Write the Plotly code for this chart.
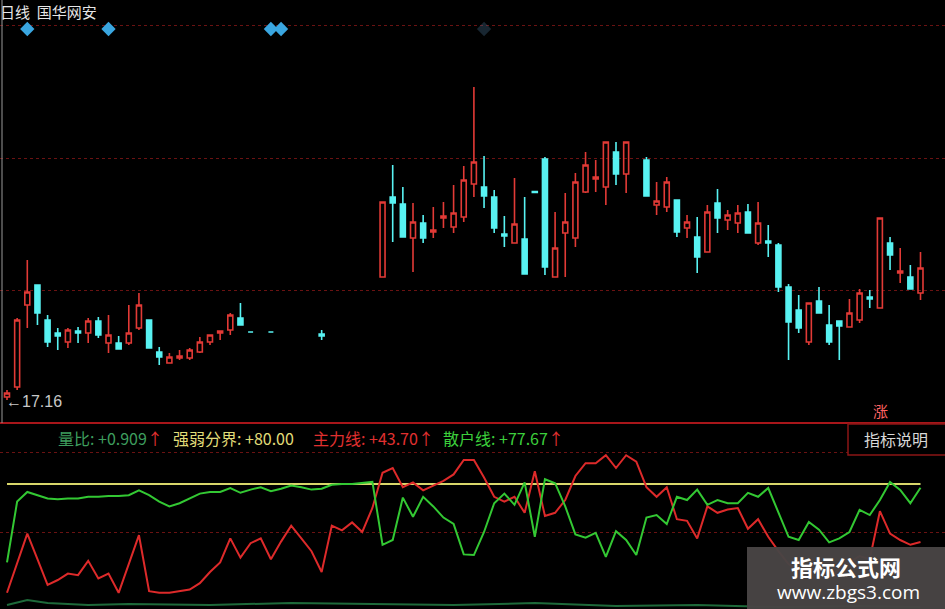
import plotly.graph_objects as go

# ---------------- data ----------------
candle_idx = list(range(0, 24)) + [24, 26, 31] + list(range(37, 62)) + list(range(63, 91))

opens = [17.25, 17.55, 20.01, 20.61, 19.56, 19.17, 18.90, 19.23, 19.17, 19.53,
         18.87, 18.87, 18.87, 19.32, 19.56, 18.60, 18.27, 18.42, 18.42, 18.60,
         18.90, 19.17, 19.26, 19.62,
         19.20, 19.20, 19.14,
         20.85, 23.25, 23.04, 22.02, 22.47, 22.20, 22.62, 22.35, 22.65, 23.64,
         23.55, 23.25, 22.14, 21.87, 21.99, 23.41, 24.39, 20.85, 22.17, 22.02,
         23.40, 23.79, 23.55, 24.60, 23.94,
         24.36, 23.01, 22.95, 23.16, 22.32, 22.05, 21.60, 23.07, 22.56, 22.47,
         22.80, 21.87, 21.93, 21.81, 20.55, 19.86, 18.90, 20.13, 19.41, 19.53,
         19.35, 19.56, 20.25, 19.92, 21.87, 20.97, 20.85, 20.37]
highs = [17.46, 19.62, 21.36, 20.61, 19.71, 19.32, 19.32, 19.35, 19.62, 19.65,
         19.71, 19.08, 20.01, 20.37, 19.56, 18.75, 18.57, 18.66, 18.72, 19.05,
         19.11, 19.23, 19.77, 20.07,
         19.21, 19.21, 19.26,
         23.10, 24.21, 23.55, 23.07, 22.71, 22.95, 23.10, 23.61, 24.18, 26.55,
         24.48, 23.46, 22.68, 23.82, 23.25, 23.41, 24.45, 22.80, 23.37, 23.97,
         24.60, 24.36, 24.90, 24.90, 24.90,
         24.45, 23.70, 23.85, 23.16, 22.71, 22.65, 23.01, 23.49, 22.86, 23.01,
         23.04, 23.10, 22.41, 21.87, 20.64, 20.31, 20.07, 20.55, 20.01, 19.53,
         20.19, 20.49, 20.46, 22.62, 22.05, 21.72, 21.21, 21.60]
lows = [17.16, 17.46, 19.32, 19.41, 18.75, 18.66, 18.72, 18.87, 18.87, 19.02,
        18.57, 18.69, 18.81, 19.26, 18.72, 18.21, 18.27, 18.36, 18.36, 18.57,
        18.81, 18.96, 19.11, 19.41,
        19.19, 19.19, 18.96,
        20.85, 21.90, 22.05, 21.00, 21.87, 22.02, 22.32, 22.17, 22.50, 23.25,
        22.92, 22.17, 21.75, 21.87, 20.94, 23.39, 20.91, 20.85, 20.85, 21.75,
        23.37, 23.40, 23.01, 23.61, 23.37,
        23.28, 22.71, 22.80, 22.05, 22.02, 20.97, 21.60, 22.17, 22.26, 22.17,
        22.17, 21.81, 21.45, 20.40, 18.36, 19.17, 18.81, 19.77, 18.81, 18.36,
        19.35, 19.47, 19.92, 19.92, 21.06, 20.67, 20.49, 20.16]
closes = [17.37, 19.56, 20.40, 19.77, 18.90, 19.08, 19.26, 19.17, 19.53, 19.11,
          19.11, 18.69, 19.17, 20.01, 18.72, 18.45, 18.45, 18.48, 18.66, 18.90,
          19.11, 19.23, 19.71, 19.41,
          19.20, 19.20, 19.08,
          23.10, 23.07, 22.05, 22.50, 22.02, 22.26, 22.68, 22.77, 23.76, 24.30,
          23.28, 22.32, 22.08, 22.44, 20.94, 23.39, 21.15, 21.72, 22.50, 23.70,
          24.21, 23.85, 24.90, 23.94, 24.90,
          23.28, 23.13, 23.70, 22.20, 22.50, 21.45, 22.80, 22.62, 22.71, 22.77,
          22.17, 22.47, 21.87, 20.55, 19.50, 19.32, 20.07, 19.77, 18.90, 19.38,
          19.77, 20.37, 20.19, 22.62, 21.51, 21.03, 20.49, 21.12]

signal_idx = [2, 10, 26, 27, 47]
signal_price = [28.29, 28.29, 28.29, 28.29, 28.29]

line_idx = list(range(0, 91))
main_force = [12, 31, 49, 33, 17, 20, 24, 23, 32, 21,
              24, 12, 30, 48, 13, 12, 12, 13, 14, 18,
              25, 31, 46, 34, 43, 46, 33, 44, 54, 46,
              38, 25, 54, 51, 56, 50, 65, 87, 90, 78,
              81, 76, 79, 82, 86, 95, 95, 84, 72, 69,
              72, 62, 88, 60, 62, 70, 85, 93, 93, 98,
              90, 98, 94, 78, 72, 78, 58, 57, 46, 66,
              62, 64, 65, 52, 58, 47, 38, 30, 26, 29,
              24, 21, 27, 31, 35, 33, 63, 49, 45, 42, 43.70]
retail = [31, 69, 75, 73, 71, 70.5, 71, 71, 72, 72,
          72.5, 72.5, 73, 76, 73, 69, 66, 68, 71, 74,
          75, 75, 77.5, 74.5, 76.5, 78, 75.5, 77, 79, 78,
          76.5, 77, 79.5, 80, 80, 80.5, 81.3, 42, 45, 71.5,
          59.5, 72, 66, 59, 55, 36, 35.6, 50, 68, 74,
          67, 81, 47, 83, 80.5, 66, 48.5, 46.5, 49.5, 34.5,
          50.5, 45, 35.6, 59, 60.6, 55, 72, 70, 76.5, 67,
          70, 68, 68, 74.5, 72, 77.5, 62, 47, 45, 56.3,
          51.5, 43.5, 46, 50, 63.8, 60.6, 70, 81.3, 76.3, 68, 77.67]
divide_level = [80.0] * 91

vol_idx = [0, 2, 4, 8, 12, 20, 28, 36, 44, 52, 60, 68, 76, 84, 90]
vol_ratio = [4.4, 7.5, 5.6, 4.4, 5.0, 4.4, 5.6, 5.0, 4.4, 5.6, 3.8, 4.4, 3.1, 3.8, 3.1]

price_grid = [20.46, 24.42, 28.41]
ind_grid = [50, 100]

# ---------------- style ----------------
RED = "#e23a36"
CYAN = "#58f2f2"
W, H = 945, 609
SPLIT = 1 - 423 / H
CJK = "Noto Sans CJK SC"

def px(x):
    return x / W

def py(y):
    return 1 - y / H

fig = go.Figure()

fig.add_trace(go.Candlestick(
    x=candle_idx, open=opens, high=highs, low=lows, close=closes,
    increasing=dict(line=dict(color=RED, width=1.6), fillcolor="rgba(0,0,0,0)"),
    decreasing=dict(line=dict(color=CYAN, width=1.6), fillcolor=CYAN),
    whiskerwidth=0, xaxis="x", yaxis="y", showlegend=False, hoverinfo="skip"))

fig.add_trace(go.Scatter(
    x=signal_idx, y=signal_price, mode="markers", xaxis="x", yaxis="y",
    marker=dict(symbol="diamond", size=11, color=["#3aa6e0"] * 4 + ["rgba(70,110,140,0.35)"]),
    showlegend=False, hoverinfo="skip"))

fig.add_trace(go.Scatter(x=vol_idx, y=vol_ratio, mode="lines", xaxis="x2", yaxis="y2",
                         line=dict(color="#1e6a3a", width=2), showlegend=False, hoverinfo="skip"))
fig.add_trace(go.Scatter(x=line_idx, y=divide_level, mode="lines", xaxis="x2", yaxis="y2",
                         line=dict(color="#d8d66a", width=2.2), showlegend=False, hoverinfo="skip"))
fig.add_trace(go.Scatter(x=line_idx, y=main_force, mode="lines", xaxis="x2", yaxis="y2",
                         line=dict(color="#dd2a2a", width=2), showlegend=False, hoverinfo="skip"))
fig.add_trace(go.Scatter(x=line_idx, y=retail, mode="lines", xaxis="x2", yaxis="y2",
                         line=dict(color="#33c833", width=2), showlegend=False, hoverinfo="skip"))

xr = [-7 / 10.15, (W - 7) / 10.15]

fig.update_layout(
    width=W, height=H, autosize=False,
    margin=dict(l=0, r=0, t=0, b=0, pad=0),
    paper_bgcolor="black", plot_bgcolor="black",
    font=dict(family=CJK, color="white"),
    hovermode=False,
    xaxis=dict(domain=[0, 1], range=xr, visible=False, rangeslider=dict(visible=False), anchor="y"),
    yaxis=dict(domain=[SPLIT, 1], range=[16.47, 29.16], tickvals=price_grid, showticklabels=False,
               showgrid=True, gridcolor="#6a1212", griddash="dot", gridwidth=1,
               zeroline=False, showline=False, anchor="x"),
    xaxis2=dict(domain=[0, 1], range=xr, visible=False, anchor="y2"),
    yaxis2=dict(domain=[0, SPLIT], range=[1.875, 118.125], tickvals=ind_grid, showticklabels=False,
                showgrid=True, gridcolor="#6a1212", griddash="dot", gridwidth=1,
                zeroline=False, showline=False, anchor="x2"),
)

shapes = [
    dict(type="line", xref="paper", yref="paper", x0=0, x1=1, y0=SPLIT, y1=SPLIT,
         line=dict(color="#a8161a", width=2)),
    dict(type="line", xref="paper", yref="paper", x0=px(2), x1=px(2), y0=SPLIT, y1=1,
         line=dict(color="#9a9a9a", width=1)),
    dict(type="rect", xref="paper", yref="paper", x0=px(848), x1=px(946), y0=py(455), y1=py(424),
         line=dict(color="#8c1616", width=1.5), fillcolor="black"),
    dict(type="rect", xref="paper", yref="paper", x0=px(747), x1=1, y0=0, y1=py(547),
         line=dict(width=0), fillcolor="rgba(72,68,68,0.97)"),
]
fig.update_layout(shapes=shapes)

ann = []
def add(text, x, y, size, color, xanchor="left", yanchor="middle", family=CJK):
    ann.append(dict(text=text, x=x, y=y, xref="paper", yref="paper", showarrow=False,
                    xanchor=xanchor, yanchor=yanchor, borderpad=0,
                    font=dict(size=size, color=color, family=family)))

add("日线  国华网安", px(-1), 1, 15, "#e6e6e6", yanchor="top")
add("←17.16", px(5), py(401), 16, "#c8c8c8", family="Liberation Sans")
add("涨", px(880), py(411), 15, "#ff6464", xanchor="center")
add("指标说明", px(896), py(439), 16, "#d8d8d8", xanchor="center")
add("量比: +0.909<span style='color:#e03030'>↑</span>", px(57), py(438), 16, "#3e9d5e")
add("强弱分界: +80.00", px(172), py(438), 16, "#e0dc78")
add("主力线: +43.70↑", px(312), py(438), 16, "#e03030")
add("散户线: +77.67<span style='color:#e03030'>↑</span>", px(442), py(438), 16, "#3ccf3c")
add("<b>指标公式网</b>", px(846), py(566), 22, "#ffffff", xanchor="center")
add("www.zbgs3.com", px(848), py(592), 19, "#ffffff", xanchor="center", family="Open Sans")
fig.update_layout(annotations=ann)

fig.write_html("out.html", config={"displayModeBar": False, "staticPlot": True},
               post_script="document.body.style.margin='0';document.body.style.overflow='hidden';")
